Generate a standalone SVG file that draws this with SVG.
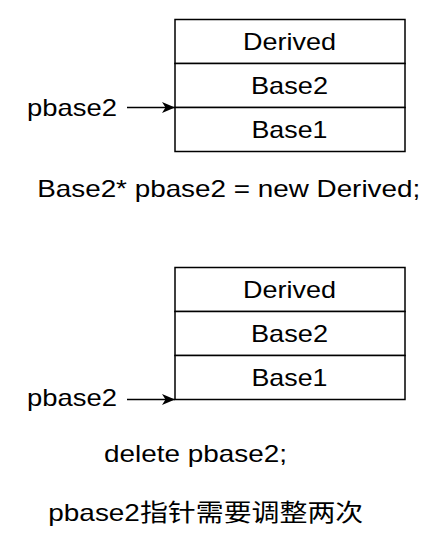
<svg xmlns="http://www.w3.org/2000/svg" width="441" height="543" viewBox="0 0 441 543">
<style>
.cell{fill:#fff;stroke:#000;stroke-width:1.5}
.t{font-family:"Liberation Sans",Arial,"Noto Sans CJK SC",sans-serif;font-size:24px;fill:#000}
.c{text-anchor:middle}
.edge{stroke:#000;stroke-width:1.5;fill:none}
</style>
<defs>
<marker id="ah" viewBox="0 0 13 11" refX="13" refY="5.5" markerWidth="13" markerHeight="11" markerUnits="userSpaceOnUse" orient="auto">
<path d="M0,0 L13,5.5 L0,11 L3.5,5.5 Z" fill="#000"/>
</marker>
</defs>
<rect width="441" height="543" fill="#fff"/>
<g id="top-derived"><rect class="cell" x="175" y="19.5" width="230" height="44"/><text class="t c" x="289.5" y="50" textLength="93" lengthAdjust="spacingAndGlyphs">Derived</text></g>
<g id="top-base2"><rect class="cell" x="175" y="63.5" width="230" height="44"/><text class="t c" x="289.5" y="94" textLength="77" lengthAdjust="spacingAndGlyphs">Base2</text></g>
<g id="top-base1"><rect class="cell" x="175" y="107.5" width="230" height="44"/><text class="t c" x="289.5" y="138" textLength="76" lengthAdjust="spacingAndGlyphs">Base1</text></g>
<g id="top-ptr"><text class="t" x="27" y="116" textLength="90" lengthAdjust="spacingAndGlyphs">pbase2</text></g>
<g id="bot-derived"><rect class="cell" x="175" y="267.5" width="230" height="44"/><text class="t c" x="289.5" y="298" textLength="93" lengthAdjust="spacingAndGlyphs">Derived</text></g>
<g id="bot-base2"><rect class="cell" x="175" y="311.5" width="230" height="44"/><text class="t c" x="289.5" y="342" textLength="77" lengthAdjust="spacingAndGlyphs">Base2</text></g>
<g id="bot-base1"><rect class="cell" x="175" y="355.5" width="230" height="44"/><text class="t c" x="289.5" y="386" textLength="76" lengthAdjust="spacingAndGlyphs">Base1</text></g>
<g id="bot-ptr"><text class="t" x="27" y="406" textLength="90" lengthAdjust="spacingAndGlyphs">pbase2</text></g>
<g id="connectors">
<line class="edge" x1="127" y1="107.5" x2="175" y2="107.5" marker-end="url(#ah)"/>
<line class="edge" x1="127" y1="399.5" x2="175" y2="399.5" marker-end="url(#ah)"/>
</g>
<g id="labels">
<text class="t c" x="228.7" y="197" textLength="383" lengthAdjust="spacingAndGlyphs">Base2* pbase2 = new Derived;</text>
<text class="t c" x="195.5" y="462" textLength="183" lengthAdjust="spacingAndGlyphs">delete pbase2;</text>
<text class="t c" x="205.8" y="521" textLength="315" lengthAdjust="spacingAndGlyphs">pbase2指针需要调整两次</text>
</g>
</svg>
